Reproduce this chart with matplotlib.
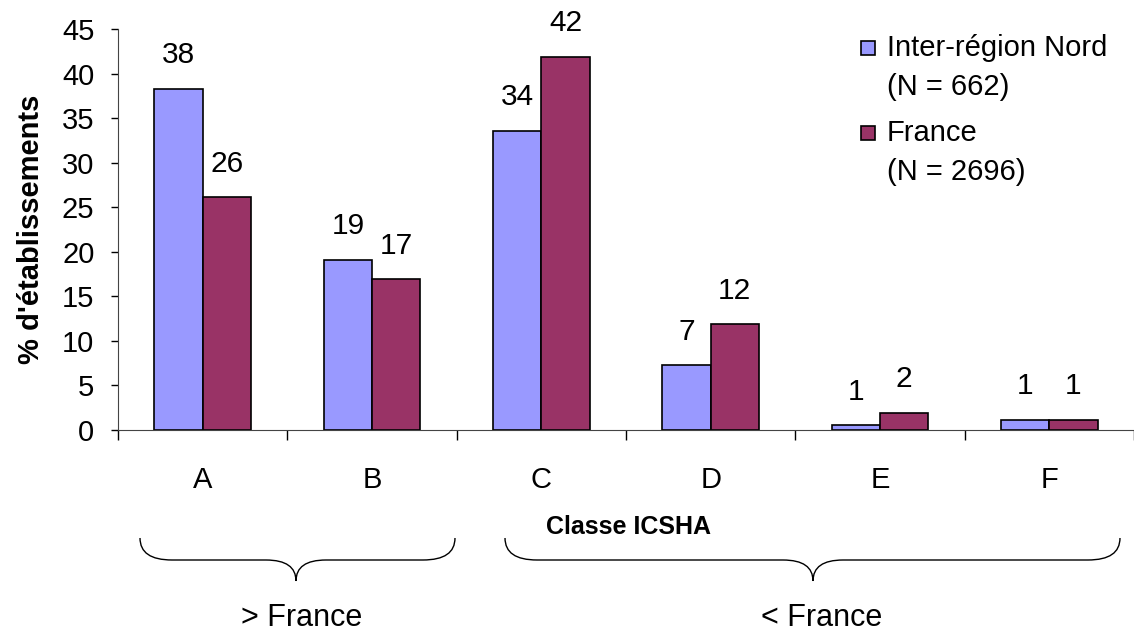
import matplotlib.pyplot as plt
import matplotlib.patches as mpatches
from matplotlib.path import Path
import numpy as np

plt.rcParams['font.family'] = ['Liberation Sans', 'DejaVu Sans']

# data
categories = ["A", "B", "C", "D", "E", "F"]
nord = [38.3, 19.1, 33.6, 7.3, 0.55, 1.15]
france = [26.1, 16.9, 41.9, 11.9, 1.95, 1.15]
nord_labels = ["38", "19", "34", "7", "1", "1"]
france_labels = ["26", "17", "42", "12", "2", "1"]
series_labels = ["Inter-région Nord\n(N = 662)", "France\n(N = 2696)"]
group_labels = ["> France", "< France"]

W, H = 1134, 634
fig = plt.figure(figsize=(W / 100, H / 100), dpi=100)
ax = fig.add_axes([118 / W, 1 - 430 / H, 1016 / W, 401 / H])

x = np.arange(len(categories))
w = 0.285
b1 = ax.bar(x - w / 2, nord, w, color="#9999FF", edgecolor="black", linewidth=1.2)
b2 = ax.bar(x + w / 2, france, w, color="#993366", edgecolor="black", linewidth=1.2)

for bars, labs in [(b1, nord_labels), (b2, france_labels)]:
    for r, t in zip(bars, labs):
        ax.annotate(t, (r.get_x() + r.get_width() / 2, r.get_height()),
                    xytext=(0, 24), textcoords="offset points",
                    ha="center", va="center", fontsize=21.5)

ax.set_xlim(-0.5, 5.5)
ax.set_ylim(0, 45)
ax.set_yticks(np.arange(0, 46, 5))
ax.tick_params(axis="y", labelsize=21, length=5, pad=12, width=1)
ax.set_xticks(np.arange(-0.5, 6, 1))
ax.set_xticklabels([])
ax.tick_params(axis="x", which="major", length=7, direction="out", width=1)
ax.set_xticks(x, minor=True)
ax.set_xticklabels(categories, minor=True)
ax.tick_params(axis="x", which="minor", length=0, labelsize=21, pad=26)
ax.spines["top"].set_visible(False)
ax.spines["right"].set_visible(False)
ax.spines["left"].set_color("#444444")
ax.spines["bottom"].set_color("#444444")

ax.set_ylabel("% d'établissements", fontsize=21, fontweight="bold", labelpad=12)
fig.text(628 / W, 1 - 527 / H, "Classe ICSHA", ha="center", va="center",
         fontsize=18, fontweight="bold")

# legend drawn by hand so the square sits on the first line
for i, (bars, lab) in enumerate([(b1, series_labels[0]), (b2, series_labels[1])]):
    ytop = [34, 119][i]
    sq = mpatches.Rectangle(((861 - 118) / 1016, (430 - ytop - 21) / 401), 14 / 1016, 14 / 401,
                            transform=ax.transAxes, facecolor=bars[0].get_facecolor(),
                            edgecolor="black", linewidth=1.2, clip_on=False)
    ax.add_patch(sq)
    ax.text((887 - 118) / 1016, (430 - ytop) / 401, lab, transform=ax.transAxes,
            ha="left", va="top", fontsize=21, linespacing=1.5)


def brace(x0, x1, xc, ytop=538, ymid=560, ytip=581, r=32, rc=30):
    pts = [(x0, ytop), (x0, ymid), (x0 + r, ymid),
           (xc - rc, ymid),
           (xc, ymid), (xc, ytip),
           (xc, ymid), (xc + rc, ymid),
           (x1 - r, ymid),
           (x1, ymid), (x1, ytop)]
    codes = [Path.MOVETO, Path.CURVE3, Path.CURVE3, Path.LINETO,
             Path.CURVE3, Path.CURVE3, Path.CURVE3, Path.CURVE3,
             Path.LINETO, Path.CURVE3, Path.CURVE3]
    pts = [(px / W, 1 - py / H) for px, py in pts]
    fig.add_artist(mpatches.PathPatch(Path(pts, codes), transform=fig.transFigure,
                                      facecolor="none", edgecolor="black", linewidth=1))


brace(140, 455, 296)
brace(505, 1120, 813)
fig.text(302 / W, 1 - 618 / H, group_labels[0], ha="center", va="center", fontsize=22)
fig.text(822 / W, 1 - 618 / H, group_labels[1], ha="center", va="center", fontsize=22)

fig.savefig("out.png", dpi=100)
